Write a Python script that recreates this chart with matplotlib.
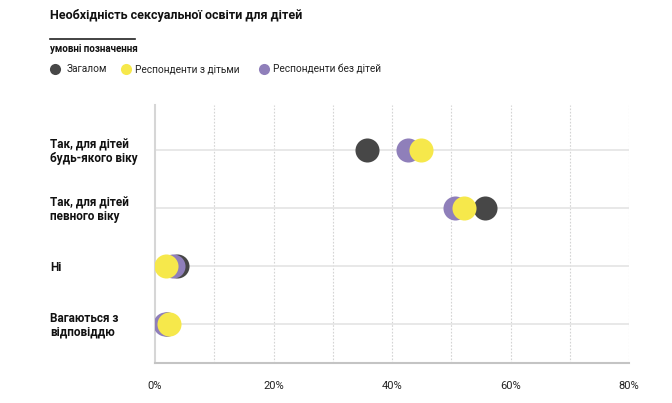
import matplotlib
matplotlib.use("Agg")
import matplotlib.pyplot as plt
from matplotlib.lines import Line2D

plt.rcParams['font.family'] = ['Roboto', 'DejaVu Sans']

# дані
categories = ["Так, для дітей\nбудь-якого віку",
              "Так, для дітей\nпевного віку",
              "Ні",
              "Вагаються з\nвідповіддю"]
zagalom = [35.7, 55.7, 3.7, 2.0]
z_ditmy = [44.9, 52.2, 1.9, 2.3]
bez_ditey = [42.7, 50.7, 3.0, 1.7]
series_names = ["Загалом", "Респонденти з дітьми", "Респонденти без дітей"]
xticks = [0, 20, 40, 60, 80]
xticklabels = ["0%", "20%", "40%", "60%", "80%"]

c_dark = "#474747"
c_yellow = "#f6e84b"
c_purple = "#8f7fba"

fig = plt.figure(figsize=(6.72, 4.03), dpi=100)
ax = fig.add_axes([155/672, 40/403, 474/672, 258/403])

ypos = list(range(len(categories)))
# сітка
for x in range(10, 81, 10):
    ax.axvline(x, color="#d4d4d4", lw=0.8, ls=(0, (1.5, 1.5)), zorder=0)
for y in ypos:
    ax.axhline(y, color="#e4e4e4", lw=1.2, zorder=0)

ax.scatter(zagalom, ypos, s=300, color=c_dark, zorder=3, linewidths=0)
ax.scatter(bez_ditey, ypos, s=300, color=c_purple, zorder=4, linewidths=0)
ax.scatter(z_ditmy, ypos, s=300, color=c_yellow, zorder=5, linewidths=0)

ax.set_xlim(0, 80)
ax.set_ylim(3.68, -0.78)
ax.set_xticks(xticks, xticklabels)
ax.set_yticks(ypos, categories)
for lab in ax.get_yticklabels():
    lab.set_ha("left")
    lab.set_fontweight("bold")
    lab.set_fontsize(8.5)
    lab.set_linespacing(1.05)
    lab.set_color("#111111")
ax.tick_params(axis="y", length=0, pad=75.6)
ax.tick_params(axis="x", length=0, pad=13, labelsize=8, labelcolor="#222222")

for s in ["top", "right"]:
    ax.spines[s].set_visible(False)
ax.spines["left"].set_color("#d6d6d6")
ax.spines["left"].set_linewidth(1.5)
ax.spines["bottom"].set_color("#c4c4c4")
ax.spines["bottom"].set_linewidth(1.5)

# заголовок і умовні позначення
fig.text(50/672, 1 - 15/403, "Необхідність сексуальної освіти для дітей",
         fontsize=9, fontweight="bold", va="center", ha="left", color="#111111")
fig.add_artist(Line2D([50/672, 135/672], [1 - 39/403, 1 - 39/403],
                      color="#222222", lw=1.2))
fig.text(50/672, 1 - 49/403, "умовні позначення", fontsize=7, fontweight="bold",
         va="center", ha="left", color="#111111")

legend_items = [(55, 67, c_dark), (126, 135, c_yellow), (264, 273, c_purple)]
for (cx, tx, col), name in zip(legend_items, series_names):
    fig.add_artist(Line2D([cx/672], [1 - 69/403], marker="o", ms=8, color=col,
                          markeredgewidth=0, ls=""))
    fig.text(tx/672, 1 - 69/403, name, fontsize=7.3, va="center", ha="left",
             color="#222222")

fig.savefig("out.png", dpi=100)
